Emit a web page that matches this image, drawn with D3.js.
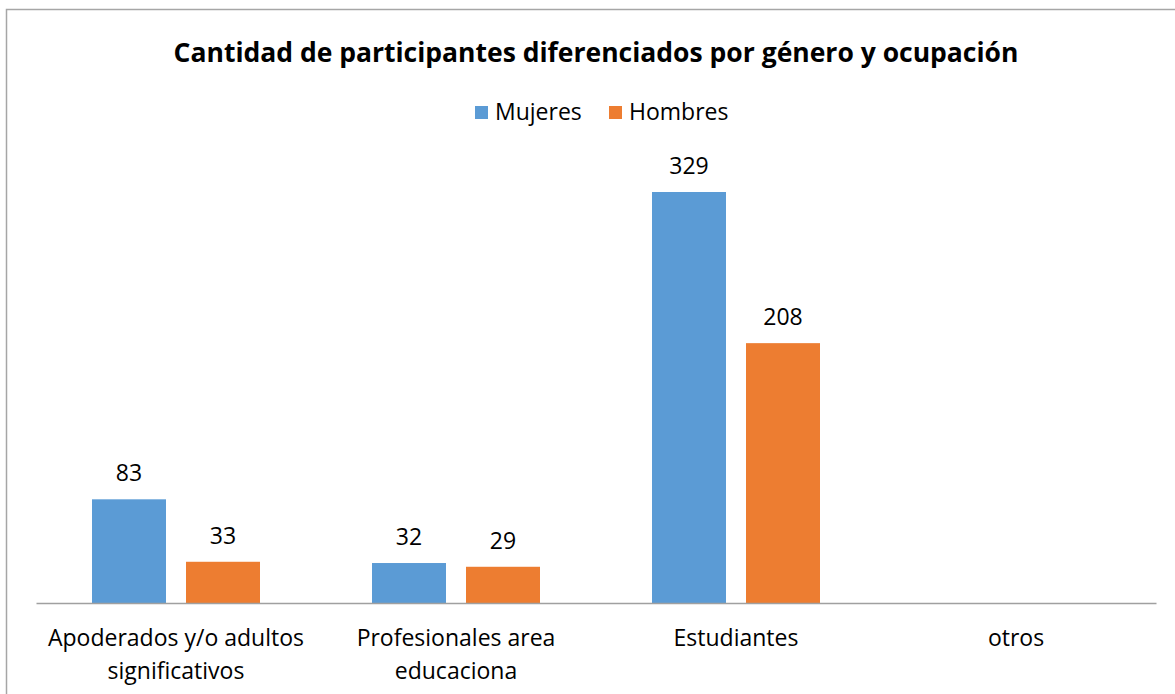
<!DOCTYPE html>
<html>
<head>
<meta charset="utf-8">
<script src="https://cdn.jsdelivr.net/npm/d3@7"></script>
<style>
  body { margin: 0; background: #fff; }
  text { font-family: "Open Sans", sans-serif; fill: #000; }
</style>
</head>
<body>
<div id="chart"></div>
<script>
// chart data
var categories = [["Apoderados y/o adultos", "significativos"], ["Profesionales area", "educaciona"], ["Estudiantes"], ["otros"]];
var series = ["Mujeres", "Hombres"];
var mujeres = [83, 32, 329, null];
var hombres = [33, 29, 208, null];
var colors = ["#5B9BD5", "#ED7D31"];

var width = 1175, height = 694;
var left = 36, right = 1156, axisY = 603;
var fontSize = "23px";

var svg = d3.select("#chart").append("svg")
    .attr("width", width)
    .attr("height", height);

// outer frame (extends past the bottom/right edge like the screenshot)
svg.append("rect")
    .attr("x", 6.5).attr("y", 9.5)
    .attr("width", 1200).attr("height", 720)
    .attr("fill", "none")
    .attr("stroke", "#a6a6a6")
    .attr("stroke-width", 1.5);

var x0 = d3.scaleBand()
    .domain(d3.range(categories.length))
    .range([left, right])
    .padding(0);

var x1 = d3.scaleBand()
    .domain(series)
    .range([56, 224])
    .paddingInner(20 / 94)
    .paddingOuter(0);

var y = d3.scaleLinear()
    .domain([0, 329])
    .range([axisY, 192]);

var rows = categories.map(function(c, i) {
    return { idx: i, values: [mujeres[i], hombres[i]] };
});

var groups = svg.selectAll(".cat")
    .data(rows)
    .enter()
    .append("g")
    .attr("class", "cat")
    .attr("transform", function(d) { return "translate(" + x0(d.idx) + ",0)"; });

var bars = groups.selectAll(".bar")
    .data(function(d) {
        return d.values.map(function(v, j) { return { name: series[j], value: v, j: j }; })
            .filter(function(e) { return e.value != null; });
    })
    .enter();

bars.append("rect")
    .attr("class", "bar")
    .attr("x", function(d) { return x1(d.name); })
    .attr("width", x1.bandwidth())
    .attr("y", function(d) { return y(d.value); })
    .attr("height", function(d) { return axisY - y(d.value); })
    .attr("fill", function(d) { return colors[d.j]; });

bars.append("text")
    .attr("x", function(d) { return x1(d.name) + x1.bandwidth() / 2; })
    .attr("y", function(d) { return y(d.value) - 18; })
    .attr("text-anchor", "middle")
    .style("font-size", fontSize)
    .text(function(d) { return d.value; });

// category axis
var xAxis = svg.append("g")
    .attr("transform", "translate(0," + axisY + ")")
    .call(d3.axisBottom(x0).tickSize(0).tickFormat(""));
xAxis.select(".domain").attr("stroke", "#a0a0a0").attr("stroke-width", 1.3);

categories.forEach(function(lines, i) {
    var t = svg.append("text")
        .attr("x", x0(i) + x0.bandwidth() / 2)
        .attr("y", 646)
        .attr("text-anchor", "middle")
        .style("font-size", fontSize);
    lines.forEach(function(line, k) {
        t.append("tspan")
            .attr("x", x0(i) + x0.bandwidth() / 2)
            .attr("dy", k === 0 ? 0 : 33)
            .text(line);
    });
});

// title
svg.append("text")
    .attr("x", 596)
    .attr("y", 62)
    .attr("text-anchor", "middle")
    .style("font-size", "26.5px")
    .style("font-weight", "bold")
    .text("Cantidad de participantes diferenciados por género y ocupación");

// legend
var legendX = [475, 609];
series.forEach(function(s, i) {
    svg.append("rect")
        .attr("x", legendX[i]).attr("y", 106)
        .attr("width", 13).attr("height", 13)
        .attr("fill", colors[i]);
    svg.append("text")
        .attr("x", legendX[i] + 20)
        .attr("y", 120)
        .style("font-size", fontSize)
        .text(s);
});
</script>
</body>
</html>
